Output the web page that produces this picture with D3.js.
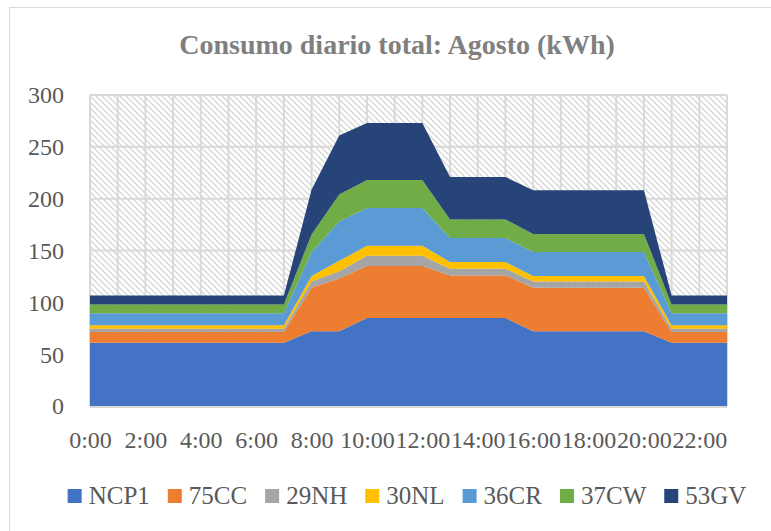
<!DOCTYPE html>
<html>
<head>
<meta charset="utf-8">
<script src="https://cdn.jsdelivr.net/npm/d3@7"></script>
<style>
  body { margin: 0; background: #fff; }
  svg { display: block; }
  text { font-family: "Liberation Serif", "DejaVu Serif", serif; }
</style>
</head>
<body>
<svg id="chart" width="771" height="531"></svg>
<script>
// hours of the day (categories)
const hours = ['0:00', '1:00', '2:00', '3:00', '4:00', '5:00', '6:00', '7:00',
    '8:00', '9:00', '10:00', '11:00', '12:00', '13:00', '14:00', '15:00',
    '16:00', '17:00', '18:00', '19:00', '20:00', '21:00', '22:00', '23:00'];

const seriesNames = ['NCP1', '75CC', '29NH', '30NL', '36CR', '37CW', '53GV'];
const seriesColors = ['#4472C4', '#ED7D31', '#A5A5A5', '#FFC000', '#5B9BD5', '#70AD47', '#264478'];

// kWh per hour, one array per meter
const ncp1 = [61, 61, 61, 61, 61, 61, 61, 61, 72, 72, 85, 85, 85, 85, 85, 85, 72, 72, 72, 72, 72, 61, 61, 61];
const cc75 = [10.5, 10.5, 10.5, 10.5, 10.5, 10.5, 10.5, 10.5, 42, 51, 50, 50, 50, 41, 41, 41, 42, 42, 42, 42, 42, 10.5, 10.5, 10.5];
const nh29 = [3, 3, 3, 3, 3, 3, 3, 3, 6, 7, 10, 10, 10, 6.5, 6.5, 6.5, 6, 6, 6, 6, 6, 3, 3, 3];
const nl30 = [3.5, 3.5, 3.5, 3.5, 3.5, 3.5, 3.5, 3.5, 5.5, 10, 9.5, 9.5, 9.5, 6.5, 6.5, 6.5, 5.5, 5.5, 5.5, 5.5, 5.5, 3.5, 3.5, 3.5];
const cr36 = [11.5, 11.5, 11.5, 11.5, 11.5, 11.5, 11.5, 11.5, 23, 38, 36.5, 36.5, 36.5, 23, 23, 23, 23, 23, 23, 23, 23, 11.5, 11.5, 11.5];
const cw37 = [8.5, 8.5, 8.5, 8.5, 8.5, 8.5, 8.5, 8.5, 17, 26, 27, 27, 27, 18, 18, 18, 17.5, 17.5, 17.5, 17.5, 17.5, 8.5, 8.5, 8.5];
const gv53 = [8.5, 8.5, 8.5, 8.5, 8.5, 8.5, 8.5, 8.5, 43, 57, 55, 55, 55, 41, 41, 41, 42, 42, 42, 42, 42, 8.5, 8.5, 8.5];

const yTicks = [0, 50, 100, 150, 200, 250, 300];

const seriesValues = [ncp1, cc75, nh29, nl30, cr36, cw37, gv53];

const table = hours.map((h, i) => {
    const row = { hour: h };
    seriesNames.forEach((name, s) => row[name] = seriesValues[s][i]);
    return row;
});

const svg = d3.select('#chart');
const plot = { left: 90, right: 727, top: 95, bottom: 406 };

// outer chart border
svg.append('rect')
    .attr('x', 9.5).attr('y', 7.5)
    .attr('width', 800).attr('height', 600)
    .attr('fill', '#fff')
    .attr('stroke', '#d9d9d9')
    .attr('stroke-width', 1);

// hatched plot background
const defs = svg.append('defs');
const pat = defs.append('pattern')
    .attr('id', 'hatch')
    .attr('patternUnits', 'userSpaceOnUse')
    .attr('width', 6).attr('height', 6);
pat.append('rect').attr('width', 6).attr('height', 6).attr('fill', '#fff');
pat.append('path')
    .attr('d', 'M-1,-1L7,7M-1,5L1,7M5,-1L7,1')
    .attr('stroke', '#d6d6d6')
    .attr('stroke-width', 1.3);

svg.append('rect')
    .attr('x', plot.left).attr('y', plot.top)
    .attr('width', plot.right - plot.left).attr('height', plot.bottom - plot.top)
    .attr('fill', 'url(#hatch)');

const x = d3.scalePoint().domain(hours).range([plot.left, plot.right]).padding(0);
const y = d3.scaleLinear().domain([0, 300]).range([plot.bottom, plot.top]);

// gridlines
const grid = svg.append('g')
    .attr('stroke', '#d9d9d9')
    .attr('stroke-width', 2);
grid.selectAll('line.v')
    .data(hours)
    .enter().append('line')
    .attr('x1', d => x(d)).attr('x2', d => x(d))
    .attr('y1', plot.top).attr('y2', plot.bottom);
grid.selectAll('line.h')
    .data(yTicks)
    .enter().append('line')
    .attr('x1', plot.left).attr('x2', plot.right)
    .attr('y1', d => y(d)).attr('y2', d => y(d));

// stacked areas
const stack = d3.stack().keys(seriesNames);
const layers = stack(table);

const area = d3.area()
    .x(d => x(d.data.hour))
    .y0(d => y(d[0]))
    .y1(d => y(d[1]));

svg.append('g')
    .selectAll('path')
    .data(layers)
    .enter().append('path')
    .attr('fill', (d, i) => seriesColors[i])
    .attr('d', area);

// axis line
svg.append('line')
    .attr('x1', plot.left).attr('x2', plot.right)
    .attr('y1', plot.bottom + 1).attr('y2', plot.bottom + 1)
    .attr('stroke', '#d9d9d9').attr('stroke-width', 2);

// y axis labels
const yAxis = svg.append('g')
    .attr('transform', `translate(${plot.left - 26},0)`)
    .call(d3.axisLeft(y).tickValues(yTicks).tickSize(0).tickPadding(0));
yAxis.select('.domain').remove();
yAxis.selectAll('text')
    .attr('font-size', 24)
    .attr('font-family', '"Liberation Serif", serif')
    .attr('fill', '#595959')
    .attr('dy', '0.33em');

// x axis labels (every two hours)
const xAxis = svg.append('g')
    .attr('transform', `translate(0,${plot.bottom})`)
    .call(d3.axisBottom(x).tickValues(hours.filter((h, i) => i % 2 === 0)).tickSize(0).tickPadding(0));
xAxis.select('.domain').remove();
xAxis.selectAll('text')
    .attr('font-size', 24)
    .attr('font-family', '"Liberation Serif", serif')
    .attr('fill', '#595959')
    .attr('dy', null)
    .attr('y', 42);

// title
svg.append('text')
    .attr('x', 397).attr('y', 54)
    .attr('text-anchor', 'middle')
    .attr('font-size', 28)
    .attr('font-weight', 'bold')
    .attr('fill', '#7f7f7f')
    .text('Consumo diario total: Agosto (kWh)');

// legend
const legend = svg.append('g');
const items = legend.selectAll('g')
    .data(seriesNames)
    .enter().append('g');
items.append('rect')
    .attr('width', 14).attr('height', 14)
    .attr('y', 489)
    .attr('fill', (d, i) => seriesColors[i]);
items.append('text')
    .attr('x', 21).attr('y', 504)
    .attr('font-size', 25)
    .attr('fill', '#595959')
    .text(d => d);

let cursor = 0;
const offsets = [];
items.each(function () {
    offsets.push(cursor);
    const w = 21 + this.querySelector('text').getComputedTextLength();
    cursor += w + 18;
});
const totalW = cursor - 18;
const startX = 407 - totalW / 2;
items.attr('transform', (d, i) => `translate(${startX + offsets[i]},0)`);
</script>
</body>
</html>
